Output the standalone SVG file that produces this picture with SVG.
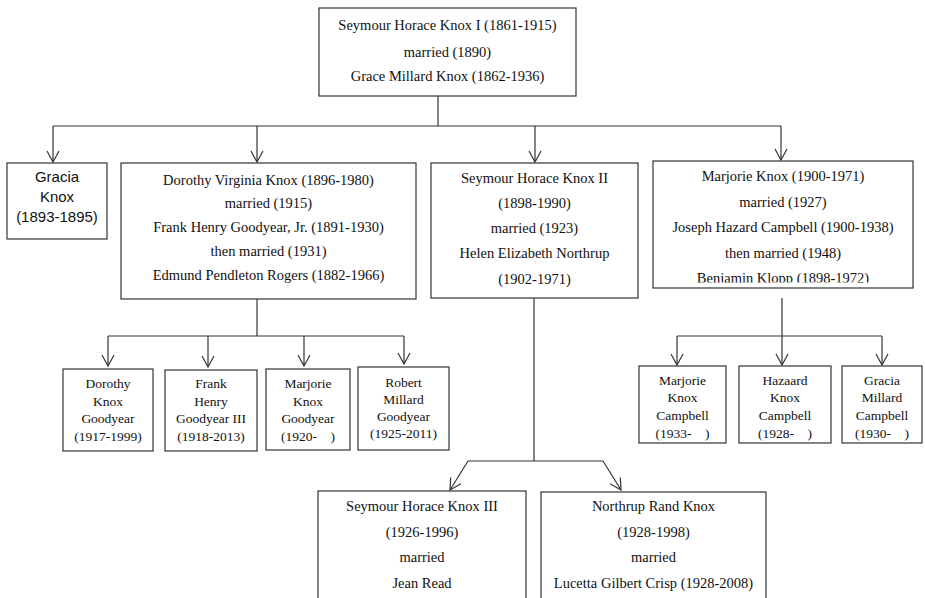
<svg xmlns="http://www.w3.org/2000/svg" width="925" height="598" viewBox="0 0 925 598">
<style>
rect.box{fill:#fff;stroke:#333;stroke-width:1.2}
text{font-family:"Liberation Serif","Times New Roman",serif;font-size:14.5px;fill:#111;text-anchor:middle}
text.sm{font-size:13.5px}
text.sans{font-family:"Liberation Sans",Arial,sans-serif;font-size:15px}
.conn line{fill:none;stroke:#333;stroke-width:1.2}
</style>
<defs>
<marker id="arr" viewBox="-1 -7 13 14" refX="11" refY="0" markerWidth="13" markerHeight="14" markerUnits="userSpaceOnUse" orient="auto">
<path d="M0,-6 L11,0 L0,6" fill="none" stroke="#333" stroke-width="1.2"/>
</marker>
<clipPath id="clipM"><rect x="653" y="161" width="260" height="121.5"/></clipPath>
</defs>

<g class="conn" id="connectors">
<line x1="438" y1="96" x2="438" y2="126"/>
<line x1="53" y1="126" x2="781" y2="126"/>
<line x1="53" y1="126" x2="53" y2="162" marker-end="url(#arr)"/>
<line x1="257" y1="126" x2="257" y2="162" marker-end="url(#arr)"/>
<line x1="535" y1="126" x2="535" y2="162" marker-end="url(#arr)"/>
<line x1="781" y1="126" x2="781" y2="160" marker-end="url(#arr)"/>

<line x1="257" y1="299" x2="257" y2="336"/>
<line x1="108" y1="336" x2="404" y2="336"/>
<line x1="108" y1="336" x2="108" y2="366" marker-end="url(#arr)"/>
<line x1="208" y1="336" x2="208" y2="367" marker-end="url(#arr)"/>
<line x1="304" y1="336" x2="304" y2="366" marker-end="url(#arr)"/>
<line x1="404" y1="336" x2="404" y2="364" marker-end="url(#arr)"/>

<line x1="782" y1="298" x2="782" y2="365" marker-end="url(#arr)"/>
<line x1="677" y1="336" x2="882" y2="336"/>
<line x1="677" y1="336" x2="677" y2="365" marker-end="url(#arr)"/>
<line x1="882" y1="336" x2="882" y2="365" marker-end="url(#arr)"/>

<line x1="534" y1="298" x2="534" y2="461"/>
<line x1="468" y1="461" x2="603" y2="461"/>
<line x1="468" y1="461" x2="450" y2="490" marker-end="url(#arr)"/>
<line x1="603" y1="461" x2="621" y2="490" marker-end="url(#arr)"/>
</g>

<g id="n_root">
<rect class="box" x="319" y="8" width="257" height="88"/>
<text x="447.5" y="30">Seymour Horace Knox I (1861-1915)</text>
<text x="447.5" y="57">married (1890)</text>
<text x="447.5" y="81">Grace Millard Knox (1862-1936)</text>
</g>

<g id="n_gracia">
<rect class="box" x="7" y="163" width="100" height="76"/>
<text class="sans" x="57" y="182">Gracia</text>
<text class="sans" x="57" y="202">Knox</text>
<text class="sans" x="57" y="222">(1893-1895)</text>
</g>

<g id="n_dorothy">
<rect class="box" x="121" y="163" width="295" height="136"/>
<text x="268.5" y="185">Dorothy Virginia Knox (1896-1980)</text>
<text x="268.5" y="208">married (1915)</text>
<text x="268.5" y="232">Frank Henry Goodyear, Jr. (1891-1930)</text>
<text x="268.5" y="256">then married (1931)</text>
<text x="268.5" y="280">Edmund Pendleton Rogers (1882-1966)</text>
</g>

<g id="n_seymour2">
<rect class="box" x="431" y="163" width="207" height="135"/>
<text x="534.5" y="183">Seymour Horace Knox II</text>
<text x="534.5" y="208">(1898-1990)</text>
<text x="534.5" y="233">married (1923)</text>
<text x="534.5" y="258">Helen Elizabeth Northrup</text>
<text x="534.5" y="284">(1902-1971)</text>
</g>

<g id="n_marjorie">
<rect class="box" x="653" y="161" width="260" height="127"/>
<g clip-path="url(#clipM)">
<text x="783" y="181">Marjorie Knox (1900-1971)</text>
<text x="783" y="207">married (1927)</text>
<text x="783" y="232">Joseph Hazard Campbell (1900-1938)</text>
<text x="783" y="258">then married (1948)</text>
<text x="783" y="283">Benjamin Klopp (1898-1972)</text>
</g>
</g>

<g id="n_dkg">
<rect class="box" x="63" y="369" width="90" height="82"/>
<text class="sm" x="108" y="388">Dorothy</text>
<text class="sm" x="108" y="405.5">Knox</text>
<text class="sm" x="108" y="423">Goodyear</text>
<text class="sm" x="108" y="441">(1917-1999)</text>
</g>

<g id="n_fhg">
<rect class="box" x="165" y="370" width="92" height="81"/>
<text class="sm" x="211" y="388">Frank</text>
<text class="sm" x="211" y="405.5">Henry</text>
<text class="sm" x="211" y="423">Goodyear III</text>
<text class="sm" x="211" y="441">(1918-2013)</text>
</g>

<g id="n_mkg">
<rect class="box" x="266" y="369" width="84" height="81"/>
<text class="sm" x="308" y="388">Marjorie</text>
<text class="sm" x="308" y="405.5">Knox</text>
<text class="sm" x="308" y="423">Goodyear</text>
<text class="sm" x="308" y="441" xml:space="preserve">(1920-    )</text>
</g>

<g id="n_rmg">
<rect class="box" x="358" y="367" width="91" height="83"/>
<text class="sm" x="403.5" y="386.5">Robert</text>
<text class="sm" x="403.5" y="403.5">Millard</text>
<text class="sm" x="403.5" y="421">Goodyear</text>
<text class="sm" x="403.5" y="438">(1925-2011)</text>
</g>

<g id="n_mkc">
<rect class="box" x="639" y="366" width="87" height="77"/>
<text class="sm" x="682.5" y="385">Marjorie</text>
<text class="sm" x="682.5" y="402">Knox</text>
<text class="sm" x="682.5" y="419.5">Campbell</text>
<text class="sm" x="682.5" y="437.5" xml:space="preserve">(1933-    )</text>
</g>

<g id="n_hkc">
<rect class="box" x="739" y="366" width="92" height="77"/>
<text class="sm" x="785" y="385">Hazaard</text>
<text class="sm" x="785" y="402">Knox</text>
<text class="sm" x="785" y="419.5">Campbell</text>
<text class="sm" x="785" y="437.5" xml:space="preserve">(1928-    )</text>
</g>

<g id="n_gmc">
<rect class="box" x="842" y="366" width="80" height="77"/>
<text class="sm" x="882" y="385">Gracia</text>
<text class="sm" x="882" y="402">Millard</text>
<text class="sm" x="882" y="419.5">Campbell</text>
<text class="sm" x="882" y="437.5" xml:space="preserve">(1930-    )</text>
</g>

<g id="n_shk3">
<rect class="box" x="318" y="491" width="208" height="120"/>
<text x="422" y="511">Seymour Horace Knox III</text>
<text x="422" y="537">(1926-1996)</text>
<text x="422" y="562">married</text>
<text x="422" y="588">Jean Read</text>
</g>

<g id="n_nrk">
<rect class="box" x="541" y="492" width="225" height="120"/>
<text x="653.5" y="511">Northrup Rand Knox</text>
<text x="653.5" y="537">(1928-1998)</text>
<text x="653.5" y="562">married</text>
<text x="653.5" y="588">Lucetta Gilbert Crisp (1928-2008)</text>
</g>
</svg>
